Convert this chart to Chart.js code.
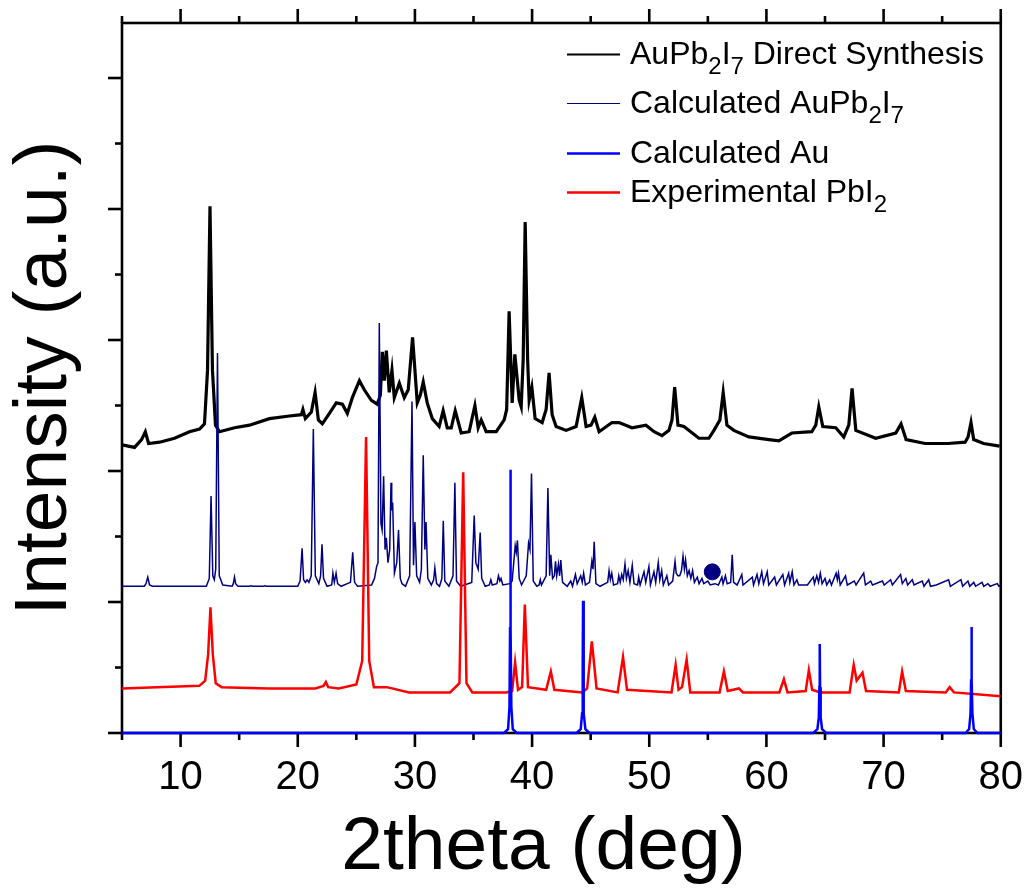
<!DOCTYPE html>
<html>
<head>
<meta charset="utf-8">
<script src="https://cdn.jsdelivr.net/npm/chart.js@4"></script>
<style>
  html, body { margin: 0; padding: 0; background: #fff; }
  #wrap { width: 1036px; height: 895px; }
</style>
</head>
<body>
<div id="wrap"><canvas id="xrdChart" width="1036" height="895"></canvas></div>
<script>
// 축 눈금
const xMajor = [10, 20, 30, 40, 50, 60, 70, 80];
const xMinor = [5, 15, 25, 35, 45, 55, 65, 75];
const yMajor = [0, 1, 2, 3, 4, 5];
const yMinor = [0.5, 1.5, 2.5, 3.5, 4.5];

// 범례 (text, subscript) 조각
const legendRows = [
  [['AuPb', false], ['2', true], ['I', false], ['7', true], [' Direct Synthesis', false]],
  [['Calculated AuPb', false], ['2', true], ['I', false], ['7', true]],
  [['Calculated Au', false]],
  [['Experimental PbI', false], ['2', true]]
];

// AuPb2I7 Direct Synthesis [2theta, intensity]
const directSynthesis = [
  [5.0,2.20],[6.07,2.18],[6.67,2.24],[6.99,2.30],[7.27,2.21],[8.21,2.22],[9.48,2.25],[10.76,2.30],
  [11.62,2.32],[12.04,2.36],[12.30,2.77],[12.51,4.02],[12.72,2.77],[12.98,2.35],[13.32,2.30],[14.60,2.33],
  [15.88,2.35],[17.58,2.40],[19.29,2.42],[20.31,2.43],[20.44,2.47],[20.65,2.40],[21.16,2.45],[21.48,2.60],
  [21.76,2.39],[22.10,2.36],[22.70,2.44],[23.29,2.52],[23.81,2.51],[24.23,2.44],[24.66,2.56],[25.26,2.69],
  [25.68,2.62],[26.28,2.54],[26.79,2.51],[27.05,2.58],[27.22,2.91],[27.39,2.69],[27.56,2.92],[27.81,2.60],
  [28.04,2.77],[28.24,2.56],[28.67,2.67],[29.09,2.56],[29.43,2.62],[29.80,3.02],[30.20,2.52],[30.46,2.58],
  [30.71,2.68],[31.05,2.52],[31.48,2.40],[32.07,2.34],[32.41,2.46],[32.76,2.33],[33.10,2.33],[33.44,2.46],
  [33.95,2.29],[34.63,2.30],[35.12,2.50],[35.40,2.33],[35.66,2.39],[36.08,2.30],[36.94,2.30],[37.62,2.39],
  [37.83,2.47],[38.04,3.22],[38.30,2.52],[38.53,2.89],[38.90,2.54],[39.07,2.49],[39.24,2.85],[39.41,3.90],
  [39.62,2.85],[39.75,2.54],[39.98,2.64],[40.26,2.40],[40.86,2.37],[41.20,2.47],[41.45,2.75],[41.71,2.43],
  [42.05,2.34],[42.90,2.31],[43.76,2.34],[44.24,2.56],[44.61,2.34],[45.03,2.35],[45.35,2.41],[45.72,2.30],
  [46.82,2.37],[47.42,2.37],[48.53,2.33],[49.72,2.35],[50.41,2.30],[51.09,2.27],[51.68,2.31],[51.94,2.39],
  [52.17,2.64],[52.45,2.35],[52.96,2.34],[54.24,2.25],[55.09,2.25],[55.52,2.31],[56.03,2.39],[56.31,2.60],
  [56.63,2.35],[57.22,2.31],[58.50,2.26],[60.21,2.24],[61.06,2.23],[62.17,2.29],[63.87,2.30],[64.21,2.35],
  [64.47,2.49],[64.81,2.34],[65.92,2.33],[66.60,2.26],[67.03,2.35],[67.31,2.63],[67.63,2.31],[69.33,2.25],
  [71.04,2.29],[71.49,2.36],[71.92,2.24],[73.55,2.21],[75.51,2.21],[76.96,2.22],[77.21,2.26],[77.46,2.37],
  [77.69,2.24],[78.54,2.21],[79.90,2.19]
];

// Calculated AuPb2I7
const calcAuPb2I7 = [
  [5,1.12],[6.9,1.12],[7.05,1.14],[7.2,1.19],[7.35,1.13],[7.6,1.12],[12.2,1.12],[12.45,1.18],[12.6,1.81],
  [12.75,1.2],[12.88,1.17],[13.0,1.25],[13.15,2.90],[13.3,1.2],[13.6,1.13],[14.4,1.12],[14.5,1.14],[14.6,1.19],
  [14.7,1.14],[14.9,1.12],[15.9,1.12],[16.0,1.125],[16.1,1.12],[17.1,1.12],[17.2,1.125],[17.3,1.12],[20.0,1.12],
  [20.2,1.16],[20.37,1.41],[20.5,1.17],[20.65,1.15],[20.8,1.17],[20.95,1.15],[21.15,1.2],[21.33,2.32],[21.5,1.2],
  [21.8,1.14],[21.95,1.2],[22.07,1.44],[22.2,1.18],[22.5,1.12],[22.9,1.13],[23.0,1.22],[23.12,1.15],[23.27,1.22],
  [23.4,1.14],[23.7,1.12],[24.5,1.15],[24.69,1.38],[24.85,1.15],[25.1,1.12],[26.3,1.13],[26.55,1.18],[26.73,1.27],
  [26.85,1.3],[26.96,3.13],[27.1,1.6],[27.2,1.55],[27.33,1.96],[27.45,1.4],[27.56,1.49],[27.7,1.3],[27.85,1.4],
  [27.96,1.91],[28.02,1.7],[28.1,1.76],[28.25,1.22],[28.45,1.3],[28.6,1.55],[28.75,1.18],[28.9,1.14],[29.2,1.12],
  [29.55,1.2],[29.75,2.53],[29.88,1.28],[30.0,1.61],[30.15,1.2],[30.4,1.15],[30.55,1.25],[30.71,2.12],[30.85,1.4],
  [30.95,1.61],[31.1,1.18],[31.4,1.13],[31.6,1.17],[31.7,1.26],[31.85,1.14],[32.1,1.12],[32.3,1.18],[32.42,1.62],
  [32.55,1.16],[32.9,1.12],[33.25,1.2],[33.41,1.91],[33.55,1.16],[33.9,1.12],[34.85,1.15],[35.06,1.66],[35.2,1.3],
  [35.4,1.25],[35.57,1.53],[35.7,1.18],[36.0,1.12],[36.35,1.13],[36.48,1.17],[36.6,1.13],[37.0,1.14],[37.13,1.2],
  [37.25,1.16],[37.35,1.18],[37.5,1.13],[38.1,1.14],[38.3,1.16],[38.56,1.43],[38.65,1.38],[38.75,1.47],[38.9,1.18],
  [39.1,1.13],[39.5,1.2],[39.7,1.45],[39.82,1.4],[39.95,1.98],[40.1,1.16],[40.4,1.12],[40.6,1.13],[40.7,1.17],
  [40.8,1.13],[41.2,1.2],[41.35,1.87],[41.5,1.2],[41.6,1.36],[41.75,1.18],[41.9,1.2],[42.0,1.31],[42.1,1.2],
  [42.25,1.29],[42.35,1.2],[42.45,1.32],[42.6,1.15],[43.0,1.12],[43.3,1.16],[43.45,1.12],[43.7,1.21],[43.85,1.14],
  [44.15,1.2],[44.28,1.15],[44.4,1.22],[44.55,1.13],[44.9,1.15],[45.1,1.31],[45.2,1.25],[45.3,1.46],[45.45,1.14],
  [45.8,1.12],[46.45,1.15],[46.57,1.24],[46.68,1.17],[46.8,1.22],[46.95,1.13],[47.3,1.14],[47.4,1.2],[47.52,1.15],
  [47.65,1.21],[47.78,1.17],[47.93,1.29],[48.05,1.18],[48.2,1.24],[48.35,1.15],[48.55,1.28],[48.7,1.14],[49.0,1.13],
  [49.1,1.19],[49.22,1.13],[49.55,1.23],[49.7,1.15],[49.97,1.27],[50.1,1.13],[50.4,1.23],[50.55,1.15],[50.77,1.3],
  [50.9,1.17],[51.06,1.24],[51.2,1.13],[51.5,1.2],[51.65,1.13],[52.0,1.16],[52.2,1.31],[52.3,1.22],[52.45,1.2],
  [52.6,1.2],[52.75,1.24],[52.88,1.35],[53.0,1.25],[53.1,1.32],[53.25,1.2],[53.4,1.24],[53.55,1.18],[53.7,1.24],
  [53.85,1.15],[54.1,1.19],[54.25,1.14],[54.5,1.18],[54.65,1.14],[55.0,1.16],[55.2,1.13],[55.6,1.14],[55.9,1.13],
  [56.2,1.19],[56.3,1.14],[56.5,1.2],[56.65,1.14],[56.95,1.15],[57.08,1.36],[57.2,1.15],[57.5,1.13],[57.9,1.21],
  [58.0,1.13],[58.8,1.19],[58.9,1.13],[59.2,1.21],[59.35,1.14],[59.6,1.23],[59.75,1.14],[60.07,1.23],[60.2,1.13],
  [60.7,1.19],[60.85,1.13],[61.4,1.21],[61.55,1.13],[61.9,1.22],[62.0,1.15],[62.2,1.23],[62.35,1.13],[62.6,1.17],
  [62.75,1.13],[63.5,1.13],[64.0,1.19],[64.1,1.14],[64.3,1.2],[64.45,1.15],[64.6,1.22],[64.75,1.14],[65.0,1.18],
  [65.15,1.13],[65.4,1.17],[65.55,1.13],[65.95,1.22],[66.05,1.17],[66.15,1.22],[66.3,1.13],[66.75,1.2],[66.9,1.13],
  [67.5,1.16],[67.65,1.13],[68.3,1.22],[68.45,1.13],[68.9,1.16],[69.05,1.13],[69.9,1.16],[70.05,1.13],[70.6,1.17],
  [70.75,1.13],[71.45,1.21],[71.6,1.14],[71.9,1.18],[72.05,1.13],[72.45,1.17],[72.6,1.13],[73.3,1.16],[73.45,1.12],
  [73.85,1.17],[74.0,1.12],[74.5,1.13],[75.55,1.17],[75.7,1.12],[76.6,1.17],[76.75,1.12],[77.2,1.16],[77.35,1.12],
  [77.7,1.15],[77.85,1.12],[78.4,1.15],[78.55,1.12],[78.9,1.14],[79.1,1.12],[79.7,1.14],[79.85,1.12],[80,1.125]
];

// 표시 점 (검은 원)
const markerPoint = [[55.38, 1.23]];

// Calculated Au
const calcAu = [
  [5,0],[37.6,0],[37.95,0.03],[38.07,0.2],[38.12,0.8],[38.15,2.01],[38.18,0.8],[38.23,0.2],[38.35,0.03],[38.7,0],
  [43.8,0],[44.15,0.03],[44.27,0.15],[44.32,0.5],[44.35,1.01],[44.38,0.5],[44.43,0.15],[44.55,0.03],[44.9,0],
  [64.0,0],[64.35,0.03],[64.47,0.12],[64.52,0.35],[64.55,0.68],[64.58,0.35],[64.63,0.12],[64.75,0.03],[65.1,0],
  [77.0,0],[77.3,0.03],[77.42,0.15],[77.47,0.4],[77.5,0.81],[77.53,0.4],[77.58,0.15],[77.7,0.03],[78.0,0],[80,0]
];

// Experimental PbI2
const expPbI2 = [
  [5.0,0.34],[8,0.35],[11.6,0.36],[12.1,0.40],[12.35,0.6],[12.55,0.96],[12.75,0.6],[13.0,0.38],[13.5,0.35],
  [17.5,0.34],[21.5,0.34],[22.2,0.36],[22.4,0.39],[22.6,0.35],[23.5,0.34],[25.0,0.37],[25.5,0.55],[25.83,2.26],
  [26.1,0.55],[26.5,0.35],[27.6,0.35],[29.5,0.31],[33.0,0.31],[33.8,0.38],[34.12,1.99],[34.4,0.38],[34.9,0.31],
  [37.8,0.31],[38.3,0.32],[38.55,0.54],[38.8,0.33],[39.15,0.35],[39.38,0.98],[39.65,0.35],[41.2,0.33],[41.6,0.47],
  [41.9,0.33],[44.3,0.31],[44.7,0.34],[45.1,0.70],[45.5,0.34],[47.3,0.31],[47.76,0.58],[48.1,0.33],[51.9,0.31],
  [52.25,0.52],[52.5,0.33],[52.8,0.35],[53.19,0.56],[53.5,0.31],[56.0,0.31],[56.37,0.47],[56.7,0.32],[57.65,0.34],
  [58.0,0.31],[61.1,0.31],[61.49,0.41],[61.8,0.31],[63.35,0.32],[63.62,0.48],[63.9,0.33],[64.6,0.31],[67.1,0.31],
  [67.45,0.52],[67.7,0.40],[68.2,0.46],[68.5,0.32],[71.3,0.31],[71.58,0.47],[71.9,0.32],[75.3,0.31],[75.64,0.35],
  [76.0,0.31],[80,0.28]
];

const toXY = arr => arr.map(p => ({ x: p[0], y: p[1] }));

const FONT = "'Liberation Sans', Arial, sans-serif";

const tick = (c, x1, y1, x2, y2) => {
  c.beginPath();
  c.moveTo(x1, y1);
  c.lineTo(x2, y2);
  c.stroke();
};

// 축 틀과 눈금 (선 아래에 그림)
const framePlugin = {
  id: 'framePlugin',
  beforeDatasetsDraw(chart) {
    const { ctx, chartArea: a, scales: { x, y } } = chart;
    ctx.save();
    ctx.strokeStyle = '#000';
    ctx.lineWidth = 2.6;
    ctx.strokeRect(a.left, a.top, a.right - a.left, a.bottom - a.top);
    xMajor.forEach(v => {
      const px = x.getPixelForValue(v);
      tick(ctx, px, a.bottom, px, a.bottom + 14);
      tick(ctx, px, a.top, px, a.top - 14);
    });
    xMinor.forEach(v => {
      const px = x.getPixelForValue(v);
      tick(ctx, px, a.bottom, px, a.bottom + 7);
      tick(ctx, px, a.top, px, a.top - 7);
    });
    yMajor.forEach(v => {
      const py = y.getPixelForValue(v);
      tick(ctx, a.left, py, a.left - 14, py);
    });
    yMinor.forEach(v => {
      const py = y.getPixelForValue(v);
      tick(ctx, a.left, py, a.left - 7, py);
    });
    ctx.restore();
  },
  afterDraw(chart) {
    const { ctx } = chart;
    ctx.save();
    // 범례
    const lineColors = ['#000000', '#000080', '#0000ff', '#ff0000'];
    const lineWidths = [2, 1, 2.5, 2.5];
    const baselines = [64, 113, 163, 202];
    ctx.textBaseline = 'alphabetic';
    ctx.fillStyle = '#000';
    legendRows.forEach((row, i) => {
      const by = baselines[i];
      ctx.strokeStyle = lineColors[i];
      ctx.lineWidth = lineWidths[i];
      tick(ctx, 567, by - 9.5, 620, by - 9.5);
      let tx = 630;
      row.forEach(([txt, sub]) => {
        ctx.font = (sub ? '24px ' : '32px ') + FONT;
        ctx.fillText(txt, tx, sub ? by + 10 : by);
        tx += ctx.measureText(txt).width;
      });
    });
    ctx.restore();
  }
};

const ctx = document.querySelector('#xrdChart');

new Chart(ctx, {
  type: 'scatter',
  data: {
    datasets: [
      { label: 'marker', data: toXY(markerPoint), showLine: false, pointRadius: 8,
        pointBackgroundColor: '#000080', pointBorderColor: '#000080', order: 0 },
      { label: 'Calculated Au', data: toXY(calcAu), showLine: true, borderColor: '#0000ff',
        borderWidth: 2.5, pointRadius: 0, order: 1, clip: false },
      { label: 'Experimental PbI2', data: toXY(expPbI2), showLine: true, borderColor: '#ff0000',
        borderWidth: 2.5, pointRadius: 0, order: 2 },
      { label: 'Calculated AuPb2I7', data: toXY(calcAuPb2I7), showLine: true, borderColor: '#000080',
        borderWidth: 1.5, pointRadius: 0, order: 3 },
      { label: 'AuPb2I7 Direct Synthesis', data: toXY(directSynthesis), showLine: true, borderColor: '#000000',
        borderWidth: 3.2, pointRadius: 0, order: 4 }
    ]
  },
  options: {
    responsive: false,
    animation: false,
    layout: { padding: { top: 23, right: 29, left: 0, bottom: 0 } },
    plugins: { legend: { display: false }, tooltip: { enabled: false } },
    scales: {
      x: {
        type: 'linear', min: 5, max: 80,
        grid: { display: false }, border: { display: false },
        ticks: {
          stepSize: 5, autoSkip: false, maxRotation: 0, padding: 13,
          color: '#000', font: { family: FONT, size: 40 },
          callback: v => (v % 10 === 0 ? String(v) : '')
        },
        title: { display: true, text: '2theta (deg) \u2009', color: '#000',
                 font: { family: FONT, size: 75 }, padding: { top: 0, bottom: 2 } },
        afterFit: s => { s.height = 162; }
      },
      y: {
        type: 'linear', min: 0, max: 5.42,
        grid: { display: false }, border: { display: false },
        ticks: { display: false },
        title: { display: true, text: 'Intensity (a.u.)', color: '#000',
                 font: { family: FONT, size: 75 }, padding: { top: 0, bottom: 0 } },
        afterFit: s => { s.width = 122; }
      }
    }
  },
  plugins: [framePlugin]
});
</script>
</body>
</html>
